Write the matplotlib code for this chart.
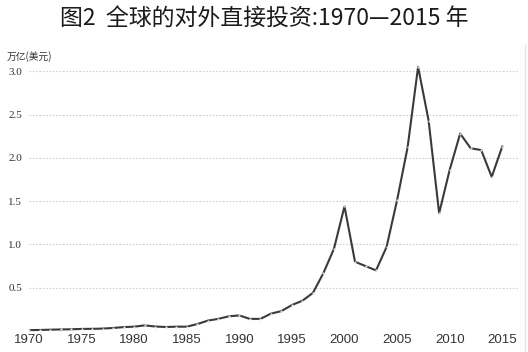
import matplotlib.pyplot as plt
import matplotlib.lines as mlines

years = list(range(1970, 2016))
fdi = [0.010, 0.012, 0.015, 0.018, 0.020, 0.024, 0.025, 0.028, 0.035, 0.045,
       0.050, 0.065, 0.052, 0.046, 0.050, 0.050, 0.080, 0.120, 0.140, 0.170,
       0.180, 0.140, 0.140, 0.200, 0.230, 0.300, 0.350, 0.440, 0.670, 0.950,
       1.440, 0.800, 0.750, 0.700, 0.970, 1.510, 2.120, 3.050, 2.430, 1.360,
       1.860, 2.280, 2.110, 2.090, 1.780, 2.130]

y_ticks = [0.5, 1.0, 1.5, 2.0, 2.5, 3.0]
x_ticks = [1970, 1975, 1980, 1985, 1990, 1995, 2000, 2005, 2010, 2015]

W, H = 528, 352
fig = plt.figure(figsize=(W / 100, H / 100), dpi=100)
fig.patch.set_facecolor('white')

# axes placed in pixel terms of the reference
left, right, top, bottom = 29, 518, 60, 333
ax = fig.add_axes([left / W, 1 - bottom / H, (right - left) / W, (bottom - top) / H])

ax.plot(years, fdi, color='#3a3a3a', lw=1.5, marker='o', ms=1.6,
        mfc='#dddddd', mec='none', zorder=3)

ax.set_xlim(1970, 2016.5)
ax.set_ylim(-0.023, 3.13)
ax.set_yticks(y_ticks)
ax.set_yticklabels([f'{v:.1f}' for v in y_ticks], family='Liberation Serif',
                   fontsize=8, color='#333333')
ax.set_xticks(x_ticks)
ax.set_xticklabels([str(v) for v in x_ticks], family='Liberation Sans',
                   fontsize=9.5, color='#333333')
ax.tick_params(axis='y', length=0, pad=5)
ax.tick_params(axis='x', length=0, pad=1)
ax.grid(axis='y', color='#cfcfcf', lw=0.8, ls=(0, (1.5, 1.5)))
ax.set_axisbelow(True)
for s in ax.spines.values():
    s.set_visible(False)

fig.text(0.5, 1 - 18 / H, '图2  全球的对外直接投资:1970—2015 年',
         ha='center', va='center', fontsize=16.5, color='#1a1a1a',
         family=['Noto Sans CJK SC', 'DejaVu Sans'])
fig.text(7 / W, 1 - 57 / H, '万亿(美元)', ha='left', va='center', fontsize=7,
         color='#333333', family=['Noto Sans CJK SC', 'DejaVu Sans'])

# faint frame edge on the right, as in the scan
fig.add_artist(mlines.Line2D([525 / W, 525 / W], [0, 1 - 45 / H],
                             color='#e4e4e4', lw=1))

fig.savefig('out.png', dpi=100)
